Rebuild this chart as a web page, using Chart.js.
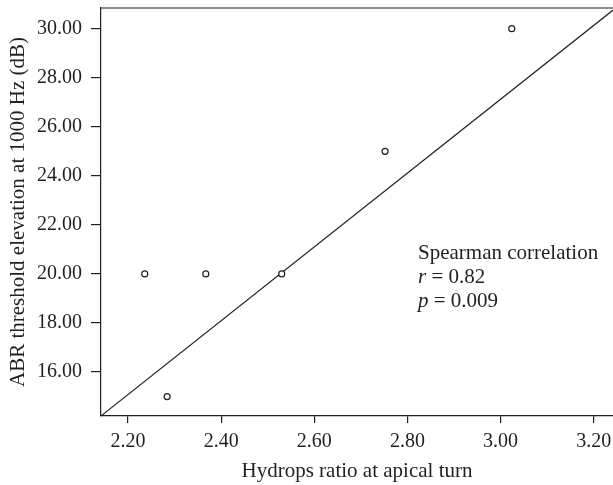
<!DOCTYPE html>
<html>
<head>
<meta charset="utf-8">
<script src="https://cdn.jsdelivr.net/npm/chart.js@4/dist/chart.umd.min.js"></script>
<style>
  html, body { margin: 0; padding: 0; background: #fff; }
  canvas { display: block; }
</style>
</head>
<body>
<canvas id="chart" width="613" height="485"></canvas>
<script>
// Data
const hydropsRatio = [2.236, 2.284, 2.367, 2.530, 2.752, 3.024];
const abrThreshold = [20, 15, 20, 20, 25, 30];

// Fitted line ends (data units)
const fitX = [2.142, 3.241];
const fitY = [14.21, 30.75];

const xTicks = [2.20, 2.40, 2.60, 2.80, 3.00, 3.20];
const yTicks = [16, 18, 20, 22, 24, 26, 28, 30];

const statLines = ['Spearman correlation', 'r = 0.82', 'p = 0.009'];

const ink = '#231f20';
const serif = "'Liberation Serif', 'DejaVu Serif', serif";

// The plot runs off the right edge of the picture: stretch the area to the canvas edge
const stretch = {
    id: 'stretch',
    afterLayout(chart) {
        const x = chart.scales.x, a = chart.chartArea;
        a.right = chart.width;
        a.width = a.right - a.left;
        x.right = chart.width;
        x.width = x.right - x.left;
        x.configure();
    }
};

// Top frame line + annotation text
const extras = {
    id: 'extras',
    afterDraw(chart) {
        const { ctx, chartArea } = chart;
        ctx.save();
        ctx.strokeStyle = ink;
        ctx.lineWidth = 1.2;
        ctx.beginPath();
        ctx.moveTo(chartArea.left, chartArea.top);
        ctx.lineTo(chartArea.right, chartArea.top);
        ctx.stroke();

        ctx.fillStyle = ink;
        ctx.textBaseline = 'middle';
        ctx.textAlign = 'left';
        const x0 = 418, y0 = 253, step = 24;
        ctx.font = `21px ${serif}`;
        ctx.fillText(statLines[0], x0, y0);
        [1, 2].forEach(i => {
            const [sym, rest] = [statLines[i].slice(0, 1), statLines[i].slice(1)];
            ctx.font = `italic 21px ${serif}`;
            ctx.fillText(sym, x0, y0 + step * i);
            const w = ctx.measureText(sym).width;
            ctx.font = `21px ${serif}`;
            ctx.fillText(rest, x0 + w, y0 + step * i);
        });
        ctx.restore();
    }
};

new Chart(document.getElementById('chart'), {
    type: 'scatter',
    data: {
        datasets: [
            {
                data: hydropsRatio.map((x, i) => ({ x, y: abrThreshold[i] })),
                pointRadius: 3,
                pointBorderWidth: 1.2,
                pointBorderColor: ink,
                pointBackgroundColor: '#fff',
                showLine: false
            },
            {
                data: fitX.map((x, i) => ({ x, y: fitY[i] })),
                showLine: true,
                borderColor: ink,
                borderWidth: 1.2,
                pointRadius: 0
            }
        ]
    },
    plugins: [stretch, extras],
    options: {
        responsive: false,
        animation: false,
        layout: { padding: { top: 8, right: 0, left: 0, bottom: 0 } },
        plugins: { legend: { display: false }, tooltip: { enabled: false } },
        scales: {
            x: {
                type: 'linear',
                min: 2.142,
                max: 3.2414,
                afterBuildTicks: s => { s.ticks = xTicks.map(v => ({ value: v })); },
                afterFit: s => { s.height = 69; s.paddingLeft = 0; s.paddingRight = 0; },
                border: { display: true, color: ink, width: 1.2 },
                grid: { drawOnChartArea: false, drawTicks: true, tickLength: 7, color: ink, lineWidth: 1.2 },
                ticks: {
                    color: ink, padding: 7, maxRotation: 0, autoSkip: false,
                    font: { family: serif, size: 20 },
                    callback: v => Number(v).toFixed(2)
                },
                title: {
                    display: true, text: 'Hydrops ratio at apical turn', color: ink,
                    font: { family: serif, size: 21 },
                    padding: { top: 0, bottom: 1 }
                }
            },
            y: {
                type: 'linear',
                min: 14.206,
                max: 30.844,
                afterBuildTicks: s => { s.ticks = yTicks.map(v => ({ value: v })); },
                afterFit: s => { s.width = 101; s.paddingTop = 0; s.paddingBottom = 0; },
                border: { display: true, color: ink, width: 1.2 },
                grid: { drawOnChartArea: false, drawTicks: true, tickLength: 10, color: ink, lineWidth: 1.2 },
                ticks: {
                    color: ink, padding: 9, autoSkip: false,
                    font: { family: serif, size: 20 },
                    callback: v => Number(v).toFixed(2)
                },
                title: {
                    display: true, text: 'ABR threshold elevation at 1000 Hz (dB)', color: ink,
                    font: { family: serif, size: 21 },
                    padding: { top: 6, bottom: 0 }
                }
            }
        }
    }
});
</script>
</body>
</html>
